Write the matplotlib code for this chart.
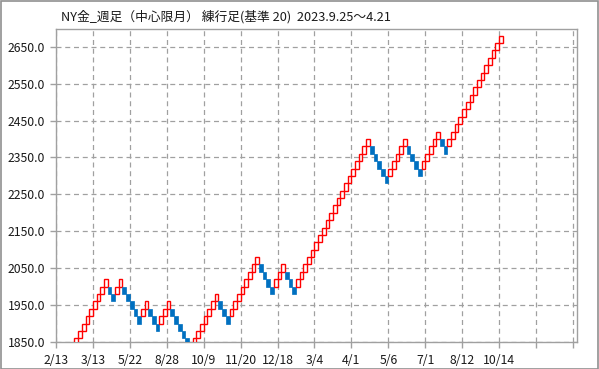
import matplotlib
matplotlib.use("Agg")
import matplotlib.pyplot as plt
from matplotlib.patches import Rectangle
from matplotlib.ticker import FormatStrFormatter

plt.rcParams['font.family'] = ['Noto Sans CJK JP', 'DejaVu Sans']

# ---- data ----
title = "NY金_週足（中心限月） 練行足(基準 20)  2023.9.25〜4.21"
brick_size = 20
# alternating turning levels: bottom, top, bottom, top ... (renko with 2-brick reversal)
pivots = [1820, 2020, 1960, 2020, 1900, 1960, 1880, 1960, 1820, 1980, 1900,
          2080, 1980, 2060, 1980, 2400, 2280, 2400, 2300, 2420, 2360, 2680]
first_index = 5
x_tick_pos = [0, 10, 20, 30, 40, 50, 60, 70, 80, 90, 100, 110, 120, 130, 140]
x_tick_labels = ['2/13', '3/13', '5/22', '8/28', '10/9', '11/20', '12/18',
                 '3/4', '4/1', '5/6', '7/1', '8/12', '10/14', '', '']
y_ticks = [1850, 1950, 2050, 2150, 2250, 2350, 2450, 2550, 2650]

up_edge = '#FF0000'
down_fill = '#0070C0'
grid_col = '#A0A0A0'

# ---- build bricks ----
bricks = []  # (index, bottom, is_up)
idx = first_index
for a, b in zip(pivots[:-1], pivots[1:]):
    if b > a:
        lvl = a + brick_size
        while lvl + brick_size <= b:
            bricks.append((idx, lvl, True))
            idx += 1
            lvl += brick_size
    else:
        lvl = a - 2 * brick_size
        while lvl >= b:
            bricks.append((idx, lvl, False))
            idx += 1
            lvl -= brick_size

fig = plt.figure(figsize=(5.99, 3.69), dpi=100)
ax = fig.add_axes([56 / 599, 1 - 342 / 369, (577 - 56) / 599, (342 - 29) / 369])

for i, bottom, up in bricks:
    if up:
        r = Rectangle((i, bottom), 1, brick_size, facecolor='white',
                      edgecolor=up_edge, linewidth=1.0, zorder=3)
    else:
        r = Rectangle((i, bottom), 1, brick_size, facecolor=down_fill,
                      edgecolor=down_fill, linewidth=0.5, zorder=3)
    ax.add_patch(r)

ax.set_xlim(0, 141.1)
ax.set_ylim(1850, 2698)
ax.set_xticks(x_tick_pos)
ax.set_xticklabels(x_tick_labels)
ax.set_yticks(y_ticks)
ax.yaxis.set_major_formatter(FormatStrFormatter('%.1f'))
ax.grid(True, color=grid_col, linestyle=(0, (4, 3)), linewidth=0.9, zorder=0)
ax.set_axisbelow(True)
for s in ax.spines.values():
    s.set_color(grid_col)
    s.set_linewidth(1.0)
ax.tick_params(axis='both', length=4, width=1, color=grid_col,
               labelsize=8.8, labelcolor='#1a1a1a')
ax.tick_params(axis='x', pad=5)
ax.tick_params(axis='y', pad=4)

fig.text(61 / 599, 1 - 17 / 369, title, fontsize=9.2, va='center', ha='left',
         color='#1a1a1a')

fig.add_artist(Rectangle((0.5 / 599, 0.5 / 369), 597.5 / 599, 367.5 / 369,
                         transform=fig.transFigure, facecolor='none',
                         edgecolor='#909090', linewidth=1.2))

fig.savefig('out.png', dpi=100)
